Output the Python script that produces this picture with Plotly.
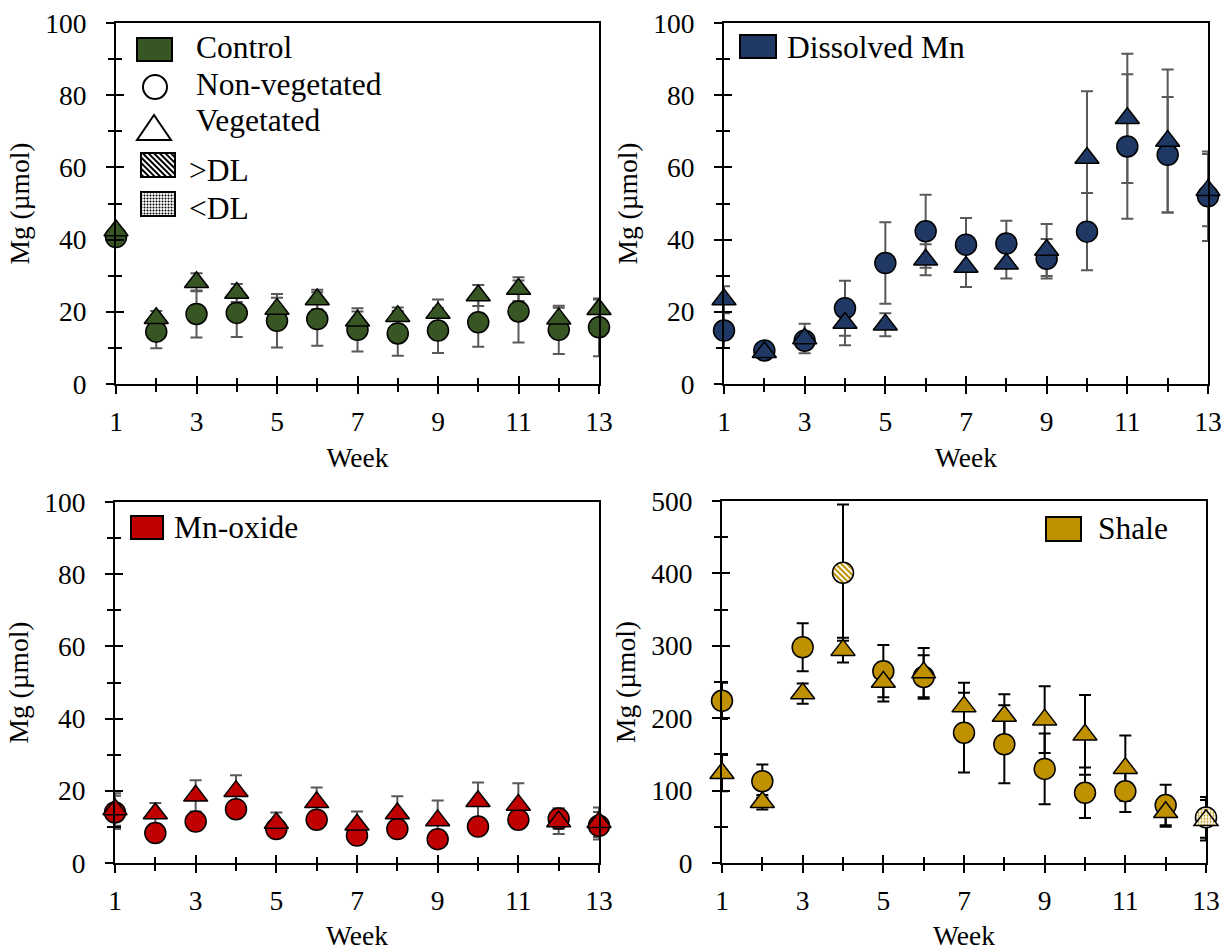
import base64
import plotly.graph_objects as go

W, H = 1225, 951

# ---------------- data ----------------
weeks = list(range(1, 14))

control_nv = [40.7, 14.5, 19.4, 19.7, 17.5, 18.0, 15.0, 14.0, 14.8, 17.1, 20.1, 15.0, 15.7]
control_nv_err = [1.0, 4.6, 6.5, 6.7, 7.4, 7.4, 6.0, 6.2, 6.2, 6.8, 8.6, 6.7, 8.0]
control_v = [42.5, 18.2, 28.2, 25.2, 20.8, 23.4, 17.5, 18.8, 19.7, 24.5, 26.3, 18.1, 20.7]
control_v_err = [1.0, 2.0, 2.5, 2.5, 3.1, 2.7, 2.6, 2.4, 3.7, 2.9, 3.3, 3.0, 2.7]

dmn_nv = [14.8, 9.3, 12.0, 21.0, 33.5, 42.3, 38.6, 38.9, 34.7, 42.2, 65.8, 63.5, 52.0]
dmn_nv_err = [4.8, 0.8, 1.0, 7.6, 11.3, 10.1, 7.4, 6.3, 5.5, 10.7, 20.0, 16.0, 12.4]
dmn_v = [23.4, 8.8, 12.6, 16.9, 16.4, 34.4, 32.4, 33.3, 37.1, 62.6, 73.6, 67.3, 53.7]
dmn_v_err = [3.7, 0.8, 4.1, 6.2, 3.2, 4.3, 5.5, 4.1, 7.2, 18.5, 17.9, 19.8, 10.0]

mno_nv = [14.0, 8.3, 11.5, 14.9, 9.4, 12.0, 7.6, 9.4, 6.6, 10.1, 12.0, 12.3, 10.3]
mno_nv_err = [4.6, 1.0, 1.5, 1.5, 1.0, 1.5, 1.0, 1.5, 1.0, 1.5, 1.5, 2.9, 3.8]
mno_v = [14.8, 13.7, 18.6, 19.9, 11.1, 16.8, 10.6, 13.7, 11.8, 17.1, 16.1, 11.5, 11.3]
mno_v_err = [4.5, 2.9, 4.3, 4.4, 2.9, 4.1, 3.7, 4.8, 5.5, 5.2, 6.0, 3.5, 4.1]

shale_nv = [224, 113, 298, 401, 265, 257, 180, 164, 130, 97, 99, 80, 63]
shale_nv_err = [25, 23, 33, 94, 36, 30, 55, 54, 49, 35, 28.5, 28, 28]
shale_v = [124, 84, 234, 294, 250, 263, 216, 203, 198, 177, 131, 70, 59]
shale_v_err = [25, 10, 14, 17, 27, 34, 33, 30, 46, 55, 45, 20, 28]
shale_nv_flag = ["", "", "", ">DL", "", "", "", "", "", "", "", "", "<DL"]
shale_v_flag = ["", "", "", "", "", "", "", "", "", "", "", "", "<DL"]
no_flag = [""] * 13

panel_names = ["Control", "Dissolved Mn", "Mn-oxide", "Shale"]
panel_colors = ["#375623", "#203864", "#C00000", "#BF9000"]
err_colors = ["#595959", "#595959", "#595959", "#000000"]
y_max = [100, 100, 100, 500]
y_dtick = [20, 20, 20, 100]
legend_items = ["Control", "Non-vegetated", "Vegetated", ">DL", "<DL"]
x_title = "Week"
y_title = "Mg (µmol)"

series = [
    (control_nv, control_nv_err, no_flag, control_v, control_v_err, no_flag),
    (dmn_nv, dmn_nv_err, no_flag, dmn_v, dmn_v_err, no_flag),
    (mno_nv, mno_nv_err, no_flag, mno_v, mno_v_err, no_flag),
    (shale_nv, shale_nv_err, shale_nv_flag, shale_v, shale_v_err, shale_v_flag),
]

# ---------------- layout geometry (pixels) ----------------
FONT = "Liberation Serif, Times New Roman, serif"
AX_FS = 27.5
LEG_FS = 31.5
boxes = [  # left, right, top, bottom in px
    (116, 599, 23, 384),
    (724, 1208, 23, 384),
    (115, 599, 502, 863),
    (722, 1206, 501, 863),
]
CIRC = 21
TRI = 21
TICK_IN_COLOR = "black"


def px(x):
    return x / W


def py(y):
    return 1 - y / H


def svg_uri(svg):
    return "data:image/svg+xml;base64," + base64.b64encode(svg.encode()).decode()


def pattern(kind, color):
    if kind == ">DL":
        return ('<pattern id="p" width="4" height="4" patternUnits="userSpaceOnUse" '
                'patternTransform="rotate(-45)"><rect width="4" height="4" fill="white"/>'
                f'<rect width="2" height="4" fill="{color}"/></pattern>')
    return ('<pattern id="p" width="3" height="3" patternUnits="userSpaceOnUse">'
            '<rect width="3" height="3" fill="white"/>'
            f'<circle cx="1.5" cy="1.5" r="1.0" fill="{color}"/></pattern>')


def marker_svg(shape, kind, color):
    if shape == "circle":
        body = f'<circle cx="0" cy="0" r="{CIRC/2}" fill="url(#p)" stroke="black" stroke-width="1.5"/>'
    else:
        r = TRI / 2
        rt = r * 2 / 3 ** 0.5
        body = (f'<path d="M{-rt:.2f},{r/2:.2f}H{rt:.2f}L0,{-r:.2f}Z" fill="url(#p)" '
                'stroke="black" stroke-width="1.5"/>')
    return ('<svg xmlns="http://www.w3.org/2000/svg" width="26" height="26" viewBox="-13 -13 26 26">'
            f'<defs>{pattern(kind, color)}</defs>{body}</svg>')


def swatch_svg(kind):
    return ('<svg xmlns="http://www.w3.org/2000/svg" width="36" height="26" viewBox="0 0 36 26">'
            f'<defs>{pattern(kind, "black")}</defs>'
            '<rect x="1" y="1" width="34" height="24" fill="url(#p)" stroke="black" stroke-width="2"/></svg>')


fig = go.Figure()
layout = dict(
    width=W, height=H, margin=dict(l=0, r=0, t=0, b=0, pad=0, autoexpand=False),
    paper_bgcolor="white", plot_bgcolor="rgba(0,0,0,0)", showlegend=False,
    font=dict(family=FONT, size=AX_FS, color="black"),
)
shapes, annotations, images = [], [], []

for i in range(4):
    n = i + 1
    sfx = "" if n == 1 else str(n)
    osfx = str(n + 4)
    l, r, t, b = boxes[i]
    xdom = [px(l), px(r)]
    ydom = [py(b), py(t)]
    base_x = dict(
        domain=xdom, range=[1, 13], tickmode="linear", tick0=1, dtick=2,
        ticklen=8, tickwidth=2, tickcolor="black", automargin=False,
        minor=dict(tick0=1, dtick=1, ticklen=6, tickwidth=2, tickcolor="black"),
        showgrid=False, zeroline=False, fixedrange=True,
    )
    base_y = dict(
        domain=ydom, range=[0, y_max[i]], tickmode="linear", tick0=0, dtick=y_dtick[i],
        ticklen=8, tickwidth=2, tickcolor="black", automargin=False,
        minor=dict(tick0=0, dtick=y_dtick[i] / 2, ticklen=6, tickwidth=2, tickcolor="black"),
        showgrid=False, zeroline=False, fixedrange=True,
    )
    xa = dict(base_x)
    xa.update(ticks="outside", showline=True, linewidth=2, linecolor="black", mirror=True,
              anchor="y" + sfx, tickfont=dict(family=FONT, size=AX_FS),
              ticklabelstandoff=4,
              title=dict(text=x_title, font=dict(family=FONT, size=AX_FS), standoff=12))
    xa["minor"] = dict(base_x["minor"], ticks="outside")
    ya = dict(base_y)
    ya.update(ticks="outside", showline=True, linewidth=2, linecolor="black", mirror=True,
              anchor="x" + sfx, tickfont=dict(family=FONT, size=AX_FS),
              ticklabelstandoff=14,
              title=dict(text=y_title, font=dict(family=FONT, size=AX_FS), standoff=8))
    ya["minor"] = dict(base_y["minor"], ticks="outside")
    # twin subplot (same domain) carrying the inside half of each crossing tick
    xo = dict(base_x)
    xo.update(ticks="inside", showline=False, showticklabels=False, tickcolor=TICK_IN_COLOR,
              anchor="y" + osfx, side="bottom")
    xo["minor"] = dict(base_x["minor"], ticks="inside", tickcolor=TICK_IN_COLOR)
    yo = dict(base_y)
    yo.update(ticks="inside", showline=False, showticklabels=False, tickcolor=TICK_IN_COLOR,
              anchor="x" + osfx, side="left")
    yo["minor"] = dict(base_y["minor"], ticks="inside", tickcolor=TICK_IN_COLOR)
    layout["xaxis" + sfx] = xa
    layout["yaxis" + sfx] = ya
    layout["xaxis" + osfx] = xo
    layout["yaxis" + osfx] = yo

    fig.add_trace(go.Scatter(x=[7], y=[y_max[i] / 2], xaxis="x" + osfx, yaxis="y" + osfx,
                             mode="markers", marker=dict(opacity=0, size=1),
                             hoverinfo="skip", showlegend=False))

    nv, nv_err, nv_flag, v, v_err, v_flag = series[i]
    color = panel_colors[i]
    xr, yr = "x" + sfx, "y" + sfx
    # error bars (beneath all markers)
    for vals, errs in ((nv, nv_err), (v, v_err)):
        fig.add_trace(go.Scatter(
            x=weeks, y=vals, xaxis=xr, yaxis=yr, mode="markers",
            marker=dict(size=2, opacity=0), cliponaxis=False, hoverinfo="skip",
            error_y=dict(type="data", array=errs, visible=True, color=err_colors[i],
                         thickness=2, width=6),
        ))
    # markers
    for vals, flags, sym, size in ((nv, nv_flag, "circle", CIRC), (v, v_flag, "triangle-up", TRI)):
        fig.add_trace(go.Scatter(
            x=weeks, y=[val if f == "" else None for val, f in zip(vals, flags)],
            xaxis=xr, yaxis=yr, mode="markers", cliponaxis=False,
            marker=dict(symbol=sym, size=size, color=color, line=dict(color="black", width=1.5)),
        ))
    # patterned (detection-limit) markers as images, placed in paper space (not clipped)
    for vals, flags, shp in ((nv, nv_flag, "circle"), (v, v_flag, "triangle")):
        for wk, val, f in zip(weeks, vals, flags):
            if f:
                xp = xdom[0] + (wk - 1) / 12.0 * (xdom[1] - xdom[0])
                yp = ydom[0] + val / float(y_max[i]) * (ydom[1] - ydom[0])
                images.append(dict(
                    source=svg_uri(marker_svg(shp, f, color)), xref="paper", yref="paper",
                    x=xp, y=yp, xanchor="center", yanchor="middle",
                    sizex=26 / W, sizey=26 / H, sizing="stretch", layer="above",
                ))


# ---------------- legends (custom) ----------------
def rect(x0, y0, x1, y1, color):
    shapes.append(dict(type="rect", xref="paper", yref="paper",
                       x0=px(x0), x1=px(x1), y0=py(y1), y1=py(y0),
                       fillcolor=color, line=dict(color="black", width=2)))


def label(x, y, text):
    annotations.append(dict(text=text, xref="paper", yref="paper", x=px(x), y=py(y),
                            xanchor="left", yanchor="middle", showarrow=False,
                            font=dict(family=FONT, size=LEG_FS, color="black")))


# panel 1
rect(137, 38, 172, 61, panel_colors[0])
label(194, 47, legend_items[0])
shapes.append(dict(type="circle", xref="paper", yref="paper",
                   x0=px(143), x1=px(167), y0=py(99), y1=py(75),
                   fillcolor="white", line=dict(color="black", width=2)))
label(194, 84, legend_items[1])
shapes.append(dict(type="path", xref="paper", yref="paper",
                   path=f"M{px(137)},{py(140)} L{px(171)},{py(140)} L{px(154)},{py(115)} Z",
                   fillcolor="white", line=dict(color="black", width=2)))
label(194, 121, legend_items[2])
for kind, yc in zip([">DL", "<DL"], [165, 204]):
    images.append(dict(source=svg_uri(swatch_svg(kind)), xref="paper", yref="paper",
                       x=px(158), y=py(yc), xanchor="center", yanchor="middle",
                       sizex=36 / W, sizey=26 / H, sizing="stretch", layer="above"))
label(187, 170, legend_items[3])
label(187, 209, legend_items[4])

# panels 2-4
rect(740, 35, 776, 58, panel_colors[1])
label(785, 47, panel_names[1])
rect(131, 516, 163, 539, panel_colors[2])
label(172, 527, panel_names[2])
rect(1046, 517, 1081, 541, panel_colors[3])
label(1096, 528, panel_names[3])

layout["shapes"] = shapes
layout["annotations"] = annotations
layout["images"] = images
fig.update_layout(**layout)
fig.write_html("out.html")
